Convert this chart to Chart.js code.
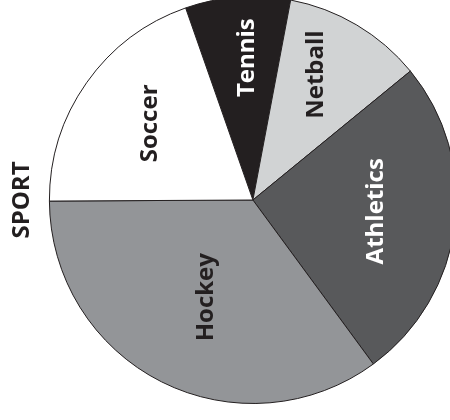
<!DOCTYPE html>
<html>
<head>
<meta charset="utf-8">
<script src="https://cdn.jsdelivr.net/npm/chart.js@4"></script>
<style>
    html, body { margin: 0; padding: 0; width: 450px; height: 420px; overflow: hidden; background: #fff; }
    #sportChart { position: absolute; left: 0; top: -4px; }
</style>
</head>
<body>
<canvas id="sportChart" width="457" height="408"></canvas>
<script>
// Slices in drawing order (clockwise, starting with Tennis)
var sports = ['Tennis', 'Netball', 'Athletics', 'Hockey', 'Soccer'];
var degrees = [30, 40, 93, 126, 71];

// Draw the slice names inside the slices, turned to read bottom to top
var sliceLabels = {
    id: 'sliceLabels',
    afterDatasetsDraw: function (chart, args, opts) {
        var ctx = chart.ctx;
        var arcs = chart.getDatasetMeta(0).data;
        ctx.save();
        ctx.font = opts.font;
        ctx.textAlign = 'center';
        ctx.textBaseline = 'middle';
        arcs.forEach(function (arc, i) {
            var p = arc.getProps(['x', 'y', 'startAngle', 'endAngle', 'outerRadius'], true);
            var mid = (p.startAngle + p.endAngle) / 2 + (opts.shift[i] || 0) * Math.PI / 180;
            var r = p.outerRadius * opts.reach[i];
            ctx.save();
            ctx.translate(p.x + Math.cos(mid) * r, p.y + Math.sin(mid) * r);
            ctx.rotate(-Math.PI / 2);
            ctx.fillStyle = opts.colors[i];
            ctx.fillText(chart.data.labels[i], 0, 0);
            ctx.restore();
        });
        ctx.restore();
    }
};

var data = {
    labels: sports,
    datasets: [{
        data: degrees,
        backgroundColor: ['#231f20', '#d1d3d4', '#58595b', '#939598', '#ffffff'],
        borderColor: '#231f20',
        borderWidth: 1,
        hoverOffset: 0
    }]
};

var config = {
    type: 'pie',
    data: data,
    options: {
        responsive: false,
        animation: false,
        rotation: -19.3,
        layout: { padding: 0 },
        plugins: {
            legend: { display: false },
            tooltip: { enabled: false },
            title: {
                display: true,
                text: 'SPORT',
                position: 'left',
                color: '#231f20',
                font: { family: 'Open Sans', size: 24, weight: 'bold', lineHeight: 1.2 },
                padding: { top: 8, bottom: 12 }
            },
            sliceLabels: {
                font: 'bold 24px "Open Sans"',
                colors: ['#ffffff', '#231f20', '#ffffff', '#231f20', '#231f20'],
                reach: [0.70, 0.69, 0.61, 0.53, 0.63],
                shift: [2, -4, -2, -1, 1.5]
            }
        }
    },
    plugins: [sliceLabels]
};

var sportChart = new Chart(document.getElementById('sportChart'), config);
</script>
</body>
</html>
